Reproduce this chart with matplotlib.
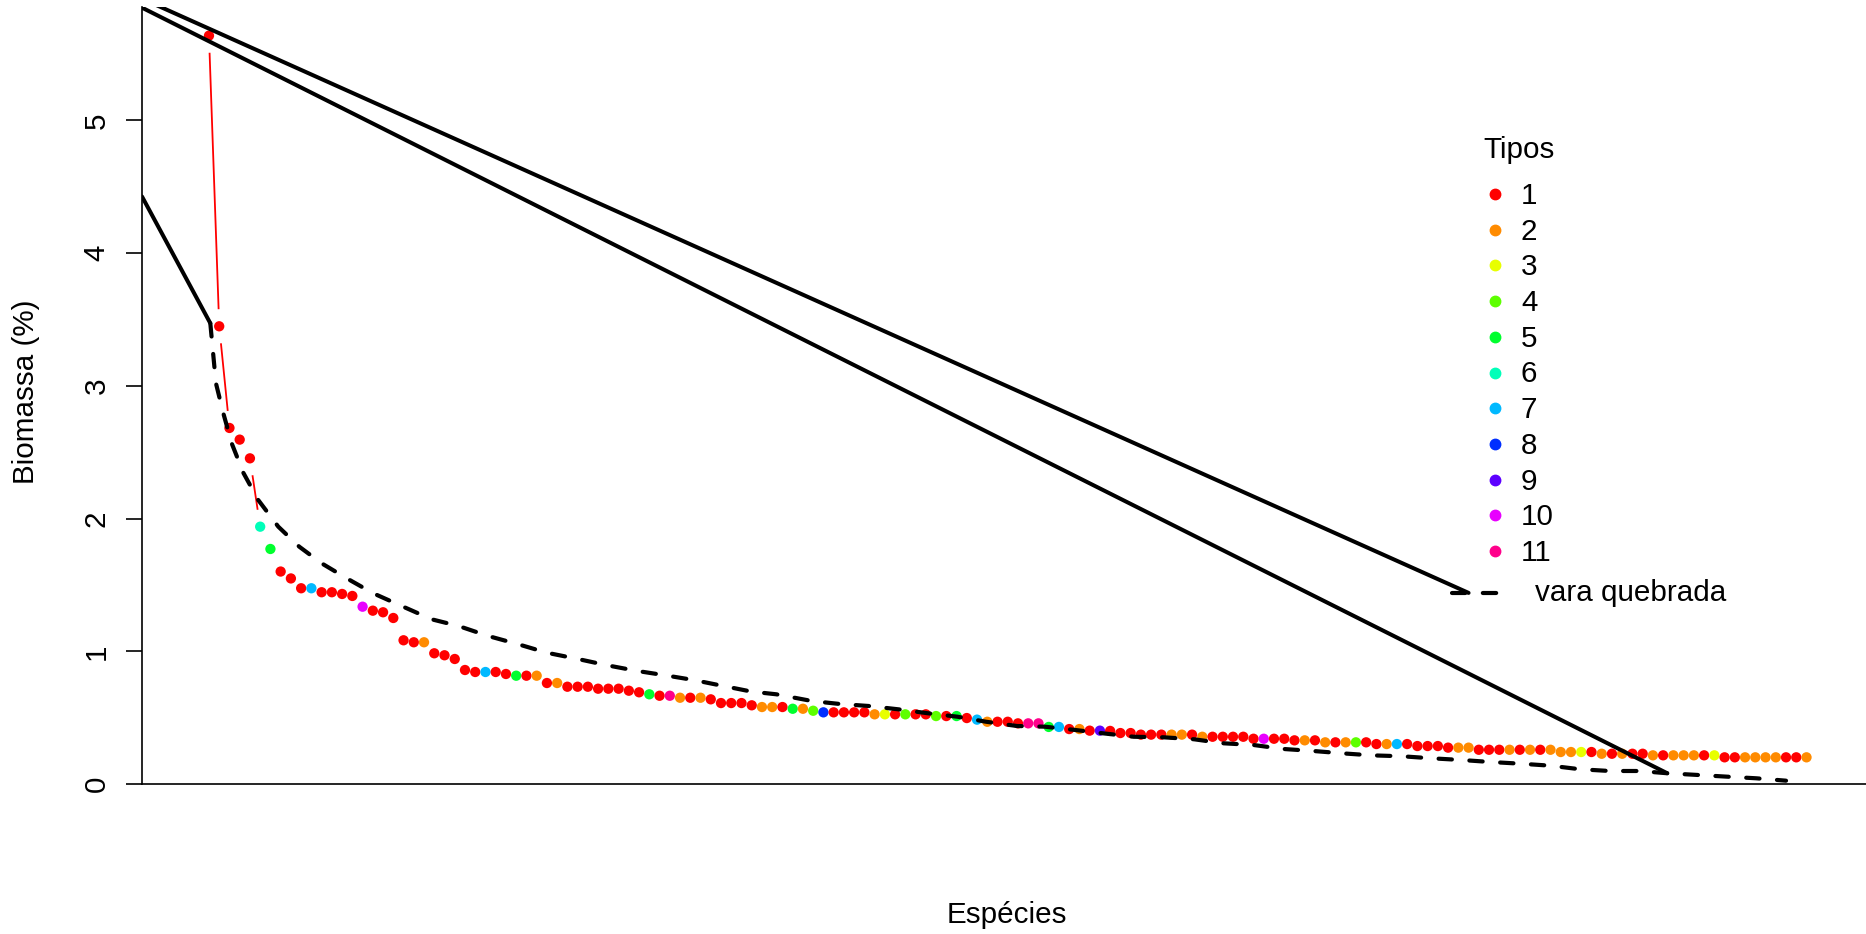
import numpy as np
import matplotlib
matplotlib.use("Agg")
import matplotlib.pyplot as plt
from matplotlib.lines import Line2D

plt.rcParams["font.family"] = ["Liberation Sans", "DejaVu Sans"]

# biomassa (%) of each species, ranked
biomassa = [
    5.639, 3.449, 2.683, 2.595, 2.454, 1.939, 1.771, 1.601, 1.549, 1.475,
    1.475, 1.445, 1.445, 1.432, 1.417, 1.336, 1.306, 1.294, 1.251, 1.083,
    1.068, 1.068, 0.985, 0.970, 0.942, 0.859, 0.844, 0.844, 0.844, 0.829,
    0.816, 0.816, 0.816, 0.761, 0.761, 0.733, 0.733, 0.733, 0.718, 0.718,
    0.718, 0.703, 0.691, 0.676, 0.665, 0.665, 0.650, 0.650, 0.650, 0.638,
    0.610, 0.610, 0.610, 0.593, 0.580, 0.580, 0.580, 0.567, 0.567, 0.552,
    0.540, 0.540, 0.540, 0.540, 0.540, 0.525, 0.525, 0.525, 0.525, 0.525,
    0.525, 0.512, 0.512, 0.512, 0.497, 0.485, 0.469, 0.469, 0.469, 0.457,
    0.457, 0.457, 0.430, 0.430, 0.414, 0.414, 0.402, 0.402, 0.400, 0.384,
    0.384, 0.372, 0.372, 0.372, 0.372, 0.372, 0.372, 0.356, 0.356, 0.356,
    0.356, 0.356, 0.341, 0.341, 0.341, 0.341, 0.329, 0.329, 0.329, 0.314,
    0.314, 0.314, 0.314, 0.314, 0.301, 0.301, 0.301, 0.301, 0.286, 0.286,
    0.286, 0.274, 0.274, 0.274, 0.258, 0.258, 0.258, 0.258, 0.258, 0.258,
    0.258, 0.258, 0.241, 0.241, 0.241, 0.241, 0.228, 0.228, 0.228, 0.228,
    0.228, 0.216, 0.216, 0.216, 0.216, 0.216, 0.216, 0.216, 0.201, 0.201,
    0.201, 0.201, 0.201, 0.201, 0.201, 0.201, 0.201,
]
# tipo of each species (1..11)
tipos = [
    1, 1, 1, 1, 1, 6, 5, 1, 1, 1,
    7, 1, 1, 1, 1, 10, 1, 1, 1, 1,
    1, 2, 1, 1, 1, 1, 1, 7, 1, 1,
    5, 1, 2, 1, 2, 1, 1, 1, 1, 1,
    1, 1, 1, 5, 1, 11, 2, 1, 2, 1,
    1, 1, 1, 1, 2, 2, 1, 5, 2, 4,
    8, 1, 1, 1, 1, 2, 3, 1, 4, 1,
    1, 4, 1, 5, 1, 7, 2, 1, 1, 1,
    11, 11, 5, 7, 1, 2, 1, 9, 1, 1,
    1, 1, 1, 1, 2, 2, 1, 2, 1, 1,
    1, 1, 1, 10, 1, 1, 1, 2, 1, 2,
    1, 2, 4, 1, 1, 2, 7, 1, 1, 1,
    1, 1, 2, 2, 1, 1, 1, 2, 1, 2,
    1, 2, 2, 2, 3, 1, 2, 1, 2, 1,
    1, 2, 1, 2, 2, 2, 1, 3, 1, 1,
    2, 2, 2, 2, 1, 1, 2,
]
nomes_tipos = ["1", "2", "3", "4", "5", "6", "7", "8", "9", "10", "11"]
cores_tipos = ["#FF0000", "#FF8B00", "#E8FF00", "#5DFF00", "#00FF2E", "#00FFB9",
               "#00B9FF", "#002EFF", "#5D00FF", "#E800FF", "#FF008B"]

# vara quebrada (broken stick) curve
vara_x = [1.13, 1.68, 2.40, 3.22, 4.35, 5.81, 7.77, 9.82, 12.0, 14.45,
          17.04, 19.82, 22.75, 25.35, 28.28, 31.2, 34.0, 36.9, 39.85, 42.8,
          45.4, 48.3, 51.2, 54.0, 56.4, 59.9, 62.6, 65.4, 68.3, 71.2,
          74.1, 76.9, 79.9, 82.6, 85.6, 88.3, 91.3, 94.2, 97.2, 100.0,
          103.0, 105.9, 108.8, 111.7, 114.5, 117.5, 120.3, 123.3, 126.1, 129.1,
          132.0, 134.9, 137.8, 140.7, 143.4, 146.4, 149.3, 152.1, 155.0]
vara_y = [3.472, 3.020, 2.794, 2.567, 2.346, 2.140, 1.939, 1.788, 1.663, 1.550,
          1.437, 1.341, 1.241, 1.191, 1.115, 1.053, 0.989, 0.944, 0.895, 0.852,
          0.821, 0.784, 0.739, 0.696, 0.676, 0.625, 0.603, 0.588, 0.563, 0.533,
          0.507, 0.469, 0.437, 0.432, 0.407, 0.382, 0.356, 0.352, 0.337, 0.307,
          0.294, 0.264, 0.249, 0.231, 0.216, 0.209, 0.194, 0.181, 0.166, 0.153,
          0.138, 0.111, 0.098, 0.098, 0.081, 0.068, 0.055, 0.043, 0.025]

# stray solid segments drawn in the original
reta1_x = [-5.54, 143.4]
reta1_y = [5.850, 0.081]
reta2_x = [-5.54, 124.0]
reta2_y = [5.918, 1.440]
reta3_x = [-5.54, 1.13]
reta3_y = [4.427, 3.472]

FS = 21.3
W, H = 1866, 934
fig = plt.figure(figsize=(W / 100, H / 100), dpi=100)
ax = fig.add_axes([142 / W, 1 - 784 / H, (1870 - 142) / W, (784 - 7) / H])
ax.set_xlim(-5.54, 163.2)
ax.set_ylim(0, 5.855)

rank = np.arange(1, len(biomassa) + 1)

# type="b" style red line: segments with gaps around the points
xy = ax.transData.transform(np.column_stack([rank, biomassa]))
gap = 18
inv = ax.transData.inverted()
for p0, p1 in zip(xy[:-1], xy[1:]):
    d = p1 - p0
    L = np.hypot(*d)
    if L > 2 * gap:
        u = d / L
        seg = inv.transform(np.array([p0 + u * gap, p1 - u * gap]))
        ax.plot(seg[:, 0], seg[:, 1], color=cores_tipos[0], lw=1.3, zorder=2)

ax.scatter(rank, biomassa, c=[cores_tipos[t - 1] for t in tipos],
           s=55, linewidths=0, zorder=3)

ax.plot(vara_x, vara_y, color="black", lw=3.0, linestyle=(0, (3.2, 4.2)),
        dash_capstyle="round", zorder=4)
for rx, ry in [(reta1_x, reta1_y), (reta2_x, reta2_y), (reta3_x, reta3_y)]:
    ax.plot(rx, ry, color="black", lw=2.9, solid_capstyle="round", zorder=4)

# axes look
for s in ["top", "right"]:
    ax.spines[s].set_visible(False)
for s in ["left", "bottom"]:
    ax.spines[s].set_linewidth(1.2)
ax.set_xticks([])
ax.set_yticks(range(6))
ax.tick_params(axis="y", length=11.5, width=1.2, pad=11, labelsize=FS)
for lab in ax.get_yticklabels():
    lab.set_rotation(90)
    lab.set_va("center")

fig.text(26 / W, 1 - 392 / H, "Biomassa (%)", rotation=90, fontsize=FS,
         ha="center", va="center")
fig.text(1007 / W, 1 - 915 / H, "Espécies", fontsize=FS,
         ha="center", va="center")

# legend
def fx(px):
    return px / W

def fy(py):
    return 1 - py / H

fig.text(fx(1483), fy(150), "Tipos", fontsize=FS, ha="left", va="center")
for i, (nome, cor) in enumerate(zip(nomes_tipos, cores_tipos)):
    yy = 194 + i * 35.7
    fig.add_artist(Line2D([fx(1495)], [fy(yy)], marker="o", color=cor,
                          markersize=7.5, linestyle="none"))
    fig.text(fx(1521), fy(yy + 2), nome, fontsize=FS, ha="left", va="center")
fig.add_artist(Line2D([fx(1452), fx(1499)], [fy(593), fy(593)], color="black",
                      lw=3.0, linestyle=(0, (3.2, 4.2)), dash_capstyle="round"))
fig.text(fx(1535), fy(593), "vara quebrada", fontsize=FS, ha="left", va="center")

fig.savefig("out.png", dpi=100)
